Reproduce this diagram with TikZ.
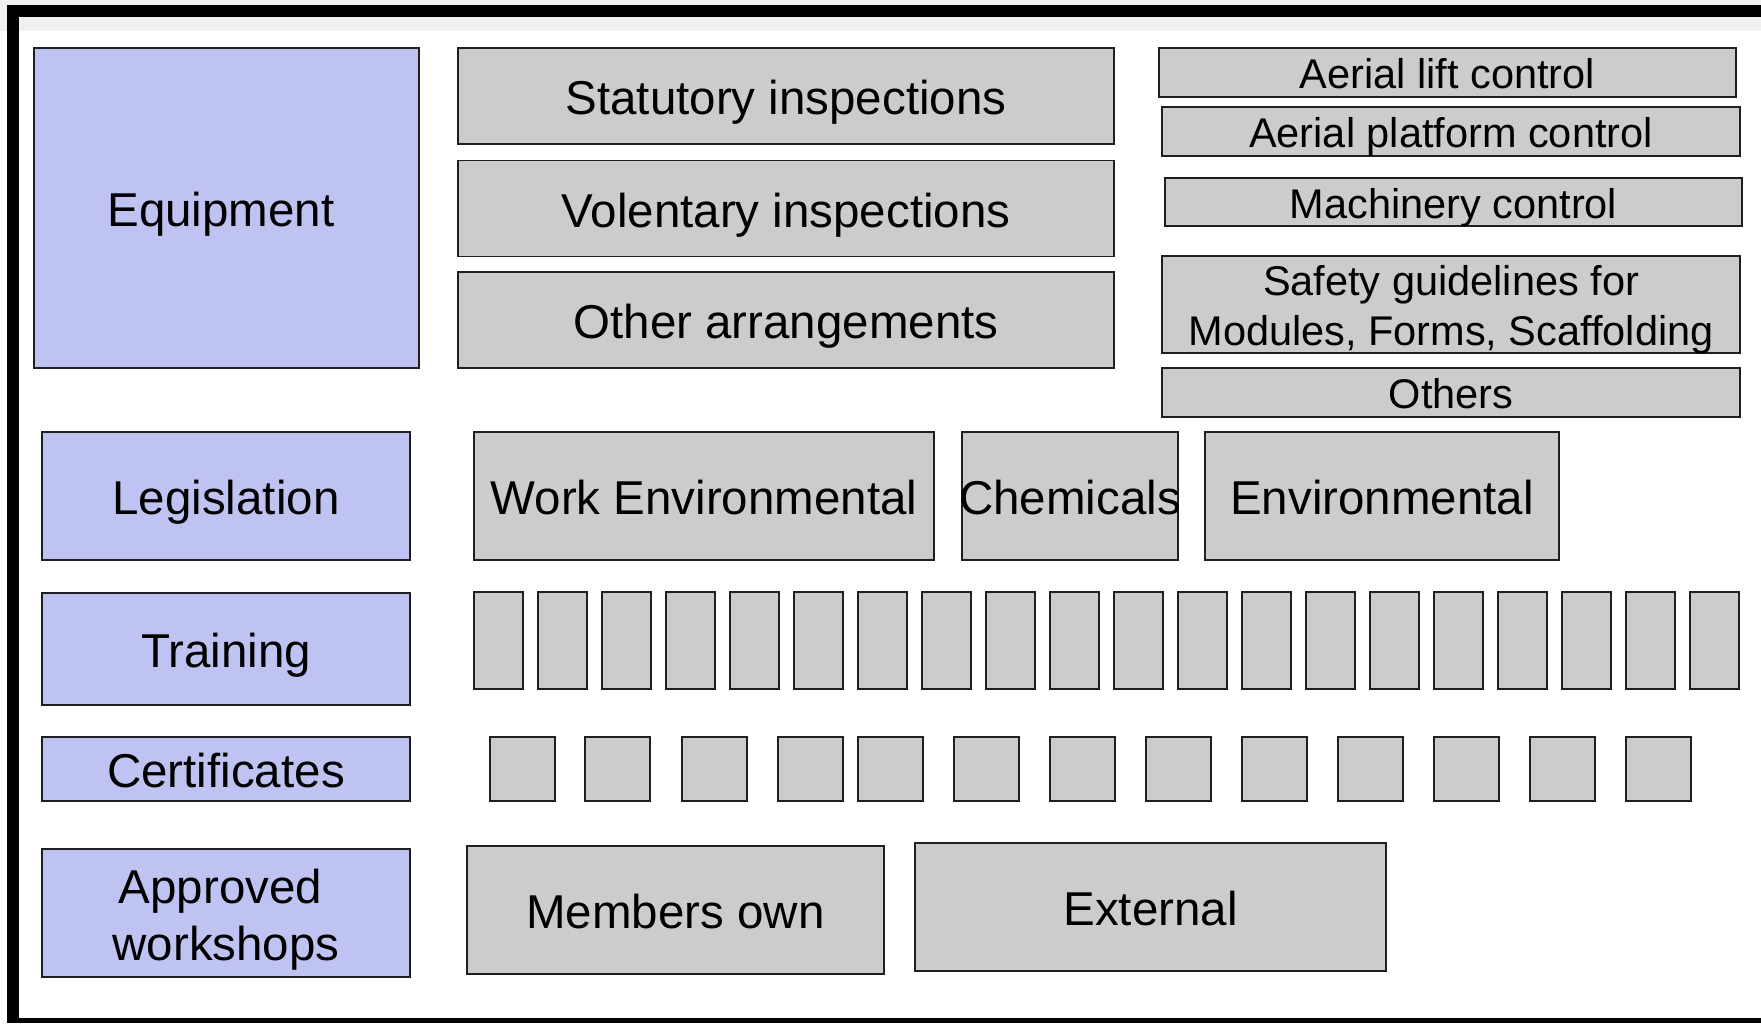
\documentclass[tikz,border=0pt]{standalone}
\usepackage{fontspec}
\setmainfont{Liberation Sans}
\definecolor{catblue}{RGB}{191,195,242}
\definecolor{boxgray}{RGB}{204,204,204}
\definecolor{stripgray}{RGB}{240,240,240}
\begin{document}
\begin{tikzpicture}[x=1pt,y=-1pt,
  base/.style={draw=black!88, line width=1.3pt, inner sep=0pt, outer sep=0pt, align=center},
  wh/.style 2 args={minimum width=#1pt, minimum height=#2pt},
  bigfont/.style={font=\fontsize{47.5}{57}\selectfont},
  smallfont/.style={font=\fontsize{41.5}{50}\selectfont},
  oneline/.style={text height=37pt, text depth=0pt},
  onelinesm/.style={text height=32.7pt, text depth=0pt},
  catbox/.style={base, fill=catblue, bigfont},
  itembox/.style={base, fill=boxgray, bigfont},
  subbox/.style={base, fill=boxgray, smallfont},
  tilebox/.style={base, fill=boxgray}]
\useasboundingbox (0,0) rectangle (1761,1023);
% page background and frame
\fill[white] (0,0) rectangle (1761,1023);
\fill[stripgray] (0,0) rectangle (1761,5);
\fill[stripgray] (0,0) rectangle (7,31);
\fill[stripgray] (19,17) rectangle (1761,31);
\fill[black] (7,5) rectangle (1761,17);
\fill[black] (7,5) rectangle (19,1023);
\fill[black] (7,1018) rectangle (1761,1023);

% category boxes (left)
\node[catbox, oneline, wh={385}{320}] (equip) at (226.5,208) {\kern-11pt Equipment};
\node[catbox, oneline, wh={368}{128}] (legis) at (226,496) {Legislation};
\node[catbox, oneline, wh={368}{112}] (train) at (226,649) {Training};
\node[catbox, oneline, wh={368}{64}] (cert) at (226,769) {Certificates};
\node[catbox, wh={368}{128},
  label={[bigfont, align=center, inner sep=0pt, yshift=-6.5pt]center:{\kern-11pt Approved\\workshops}}]
  (appr) at (226,913) {};

% equipment items
\node[itembox, oneline, wh={656}{96}] (stat) at (786,96) {Statutory inspections};
\node[itembox, oneline, wh={656}{96}] (vol) at (786,208.5) {Volentary inspections};
\node[itembox, oneline, wh={656}{96}] (other) at (786,320) {Other arrangements};

% equipment sub-items (right column)
\node[subbox, onelinesm, wh={577}{49}] (lift) at (1447.5,72.5) {Aerial lift control};
\node[subbox, onelinesm, wh={578}{49}] (platf) at (1451,131.5) {Aerial platform control};
\node[subbox, onelinesm, wh={577}{48}] (mach) at (1453.5,202) {Machinery control};
\node[subbox, wh={578}{97},
  label={[smallfont, align=center, inner sep=0pt, yshift=-5pt]center:{Safety guidelines for\\Modules, Forms, Scaffolding}}]
  (safety) at (1451,304.5) {};
\node[subbox, onelinesm, wh={578}{49}] (others) at (1451,392.5) {Others};

% legislation items
\node[itembox, oneline, wh={460}{128}] (workenv) at (704,496) {Work Environmental};
\node[itembox, oneline, wh={216}{128}] (chem) at (1070,496) {\makebox[0pt]{Chemicals}};
\node[itembox, oneline, wh={354}{128}] (env) at (1382,496) {Environmental};

% training tiles
\foreach \i in {0,...,19}{
  \node[tilebox, wh={49}{97}] (t\i) at ({474+64*\i+24.5},640.5) {};
}

% certificate tiles
\foreach \x [count=\k] in {490,585,682,778,858,954,1050,1146,1242,1338,1434,1530,1626}{
  \node[tilebox, wh={65}{64}] (c\k) at ({\x+32.5},769) {};
}

% approved workshops items
\node[itembox, oneline, wh={417}{128}] (members) at (675.5,910) {Members own};
\node[itembox, oneline, wh={471}{128}] (ext) at (1150.5,907) {External};
\end{tikzpicture}
\end{document}
